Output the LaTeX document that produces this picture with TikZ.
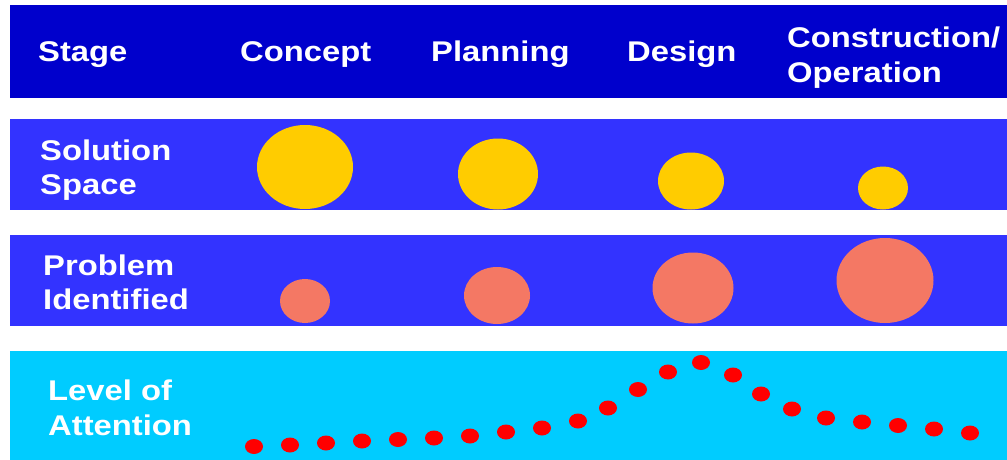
\documentclass[tikz,border=0pt]{standalone}
\usepackage{fontspec}
\newfontfamily\labfont{Liberation Sans}[FakeStretch=1.15]
\definecolor{topblue}{HTML}{0000CC}
\definecolor{midblue}{HTML}{3333FF}
\definecolor{skyblue}{HTML}{00CCFF}
\definecolor{solyellow}{HTML}{FFCC00}
\definecolor{probsalmon}{HTML}{F47864}
\definecolor{dotred}{HTML}{FF0000}
\tikzset{
  lab/.style={text=white, font=\labfont\bfseries\fontsize{28.5}{34}\selectfont, inner sep=0pt, anchor=base west},
  band/.style={draw=none},
}
\begin{document}
\begin{tikzpicture}[x=1pt,y=-1pt]
\useasboundingbox (0,0) rectangle (1007,460);
\fill[white] (0,0) rectangle (1007,460);
% bands
\fill[topblue] (10,5) rectangle (1007,97.5);
\fill[midblue] (10,118.5) rectangle (1007,210);
\fill[midblue] (10,234.5) rectangle (1007,326);
\fill[skyblue] (10,350.5) rectangle (1007,460);
% header texts
\node[lab] (stage) at (38,62) {Stage};
\node[lab] (concept) at (240,62) {Concept};
\node[lab] (planning) at (431,62) {Planning};
\node[lab] (design) at (627,62) {Design};
\node[lab] (constr) at (787,47.5) {Construction/};
\node[lab] (oper) at (787,82.5) {Operation};
% row labels
\node[lab] (sol1) at (40,160.5) {Solution};
\node[lab] (sol2) at (40,194.5) {Space};
\node[lab] (prob1) at (43,275) {Problem};
\node[lab] (prob2) at (43,309.5) {Identified};
\node[lab] (lev1) at (48,400) {Level of};
\node[lab] (lev2) at (48,435.5) {Attention};
% solution space
\fill[solyellow] (305,167) ellipse [x radius=48, y radius=42];
\fill[solyellow] (498,174) ellipse [x radius=40, y radius=35.5];
\fill[solyellow] (691,181) ellipse [x radius=33, y radius=28.5];
\fill[solyellow] (883,188) ellipse [x radius=25, y radius=21.5];
% problem identified
\fill[probsalmon] (305,301) ellipse [x radius=25, y radius=22];
\fill[probsalmon] (497,295.5) ellipse [x radius=33, y radius=28.5];
\fill[probsalmon] (693,288) ellipse [x radius=40.5, y radius=35.5];
\fill[probsalmon] (885,280.5) ellipse [x radius=48.5, y radius=42.5];
% level of attention
\foreach \px/\py in {254/446.5,290/445,326/443,362/441,398/439.5,434/438,470/436,506/432,542/428,578/421,608/408,638/389.5,668/372,701/362.5,733/375,761/394,792/409,826/418,862/422,898/425.5,934/429,970/433}
  \fill[dotred] (\px,\py) ellipse [x radius=9, y radius=7.5];
\end{tikzpicture}
\end{document}
